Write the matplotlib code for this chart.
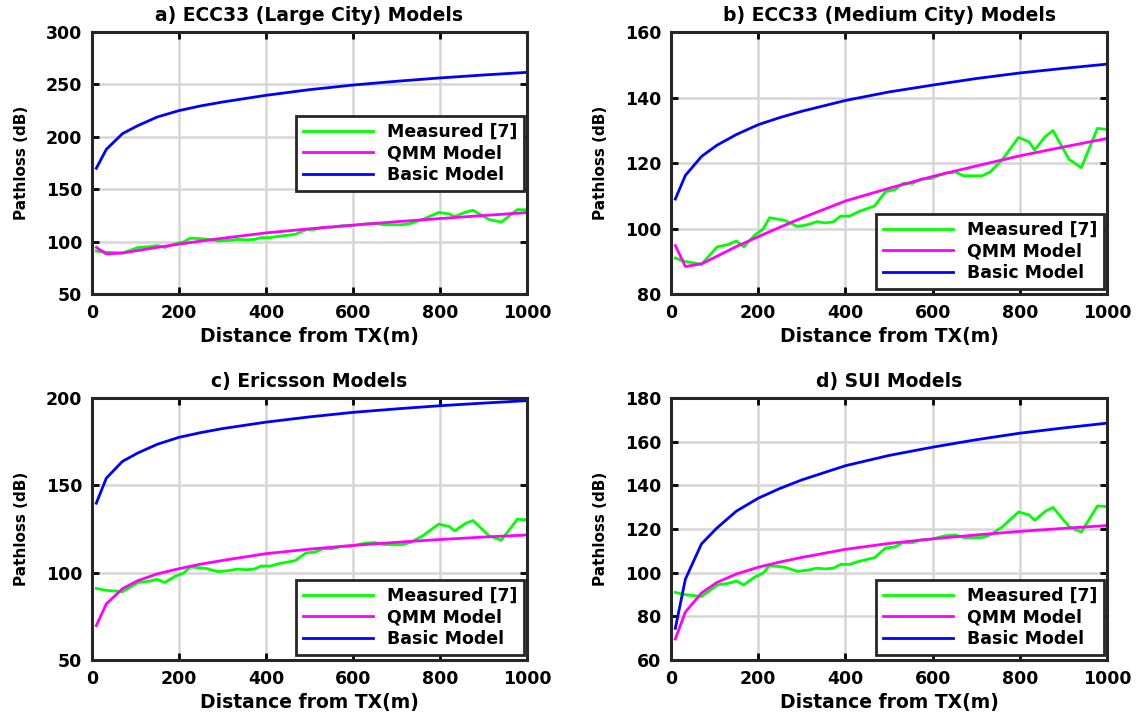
import matplotlib as mpl
mpl.use('Agg')
import matplotlib.pyplot as plt

# measured path loss (same campaign in every panel)
meas_dist = [10, 30, 70, 106, 131, 150, 167, 192, 211, 226, 261, 290, 314, 335,
             354, 373, 389, 410, 429, 467, 492, 513, 532, 555, 574, 597, 628,
             651, 671, 713, 732, 759, 797, 821, 834, 859, 876, 913, 941, 978, 996]
meas_loss = [91.0, 90.0, 89.1, 94.4, 95.1, 96.2, 94.4, 98.0, 99.8, 103.3, 102.5,
             100.6, 101.2, 102.1, 101.7, 102.1, 103.8, 103.8, 105.1, 106.9, 111.3,
             111.8, 113.8, 113.8, 115.1, 115.3, 116.9, 117.3, 116.1, 116.1, 117.3,
             120.9, 127.8, 126.5, 124.0, 128.2, 129.9, 121.1, 118.6, 130.6, 130.3]

# distances the models were evaluated at
model_dist = [10, 33, 70, 105, 150, 200, 250, 300, 400, 500, 600, 700, 800, 900, 1000]

ecc_large_basic = [170.0, 188.0, 203.0, 210.6, 218.9, 225.0, 229.5, 233.2, 239.6,
                   245.0, 249.4, 253.0, 256.2, 259.0, 261.5]
ecc_large_qmm = [94.5, 88.3, 89.1, 91.5, 94.5, 97.6, 100.5, 103.2, 108.3, 112.2,
                 115.7, 119.0, 122.0, 124.9, 127.7]

ecc_medium_basic = [109.0, 116.2, 122.0, 125.4, 128.7, 131.7, 133.9, 135.8, 139.1,
                    141.7, 143.8, 145.8, 147.5, 148.9, 150.2]
ecc_medium_qmm = [94.8, 88.4, 89.2, 91.5, 94.5, 97.5, 100.4, 103.2, 108.4, 112.3,
                  115.9, 119.1, 122.2, 124.9, 127.5]

ericsson_basic = [139.8, 154.1, 163.7, 168.5, 173.5, 177.5, 180.2, 182.5, 186.2,
                  189.2, 191.8, 193.8, 195.6, 197.1, 198.5]
ericsson_qmm = [69.7, 82.1, 90.8, 95.4, 99.3, 102.3, 104.9, 107.0, 110.9, 113.5,
                115.6, 117.4, 119.0, 120.4, 121.6]

sui_basic = [74.5, 97.0, 113.2, 120.4, 128.2, 134.1, 138.6, 142.5, 149.0, 153.7,
             157.5, 160.9, 163.9, 166.3, 168.5]
sui_qmm = [69.6, 82.0, 90.7, 95.5, 99.4, 102.5, 104.9, 107.0, 110.7, 113.4,
           115.5, 117.3, 118.9, 120.3, 121.6]

titles = ['a) ECC33 (Large City) Models', 'b) ECC33 (Medium City) Models',
          'c) Ericsson Models', 'd) SUI Models']
basics = [ecc_large_basic, ecc_medium_basic, ericsson_basic, sui_basic]
qmms = [ecc_large_qmm, ecc_medium_qmm, ericsson_qmm, sui_qmm]
ylims = [(50, 300), (80, 160), (50, 200), (60, 180)]
ysteps = [50, 20, 50, 20]
x_ticks = [0, 200, 400, 600, 800, 1000]

plt.rcParams['font.family'] = ['DejaVu Sans']
plt.rcParams['font.weight'] = 'bold'

fig = plt.figure(figsize=(11.38, 7.15), dpi=100)
boxes = [(0.0808, 0.5888, 0.3822, 0.3664), (0.5896, 0.5888, 0.3832, 0.3664),
         (0.0808, 0.0769, 0.3822, 0.3664), (0.5896, 0.0769, 0.3832, 0.3664)]

for i in range(4):
    ax = fig.add_axes(boxes[i])
    ax.plot(meas_dist, meas_loss, color=(0, 1, 0), lw=2, label='Measured [7]')
    ax.plot(model_dist, qmms[i], color=(1, 0, 1), lw=2, label='QMM Model')
    ax.plot(model_dist, basics[i], color=(0, 0, 1), lw=2, label='Basic Model')

    lo, hi = ylims[i]
    ax.set_xlim(0, 1000)
    ax.set_ylim(lo, hi)
    ax.set_xticks(x_ticks)
    ax.set_yticks(range(lo, hi + 1, ysteps[i]))
    ax.grid(True, color='#d6d6d6', lw=1.8)
    ax.set_axisbelow(True)
    ax.tick_params(direction='in', length=5, width=2, top=True, right=True,
                   labelsize=12.5, pad=7)
    for s in ax.spines.values():
        s.set_linewidth(2.2)
        s.set_color('#262626')

    ax.set_title(titles[i], fontsize=13.5, fontweight='bold', pad=8)
    ax.set_xlabel('Distance from TX(m)', fontsize=13.5, fontweight='bold', labelpad=4)
    ax.set_ylabel('Pathloss (dB)', fontsize=11, fontweight='bold', labelpad=12)

    if i == 0:
        loc, anchor = 'upper right', (0.993, 0.68)
    else:
        loc, anchor = 'lower right', (0.993, 0.02)
    leg = ax.legend(loc=loc, bbox_to_anchor=anchor, borderaxespad=0,
                    fontsize=12.5, handlelength=4.0, fancybox=False,
                    framealpha=1, borderpad=0.4, labelspacing=0.2)
    leg.get_frame().set_edgecolor('#262626')
    leg.get_frame().set_linewidth(2)

fig.savefig('out.png', dpi=100)
